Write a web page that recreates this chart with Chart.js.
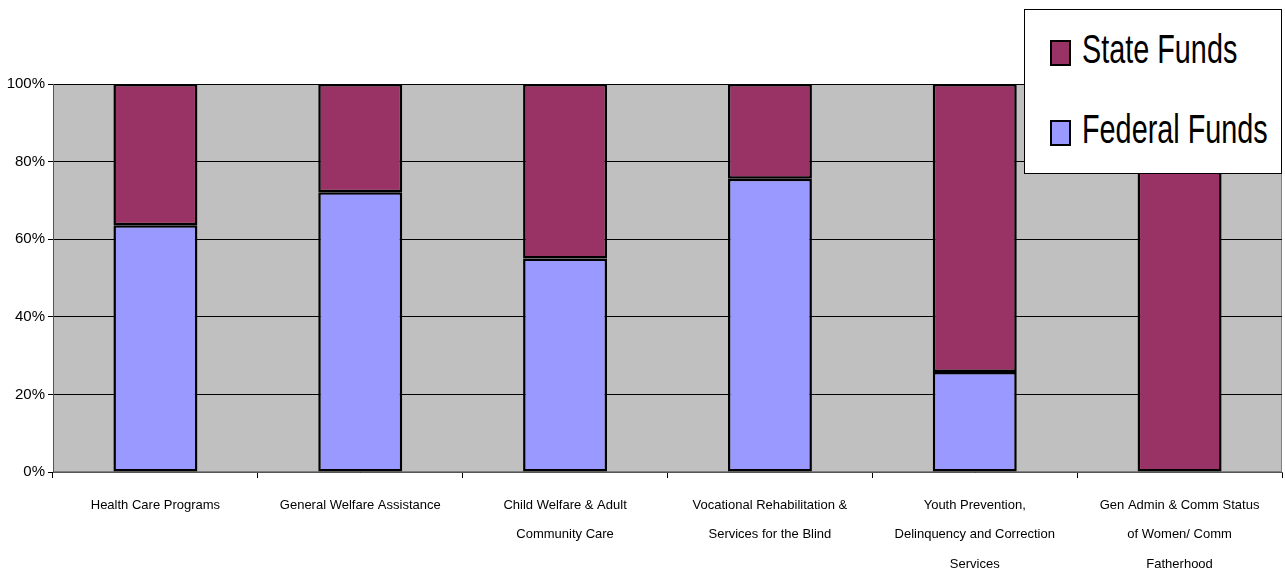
<!DOCTYPE html>
<html>
<head>
<meta charset="utf-8">
<script src="https://cdn.jsdelivr.net/npm/chart.js@4"></script>
<style>
  html, body { margin: 0; padding: 0; background: #fff; }
  .wrap { position: relative; width: 1285px; height: 576px; }
  .legend {
    position: absolute; left: 1024px; top: 9px; width: 256px; height: 163px;
    background: #fff; border: 1px solid #000;
    font-family: 'Liberation Sans', Arial, sans-serif; color: #000;
  }
  .legend .box { position: absolute; left: 25px; width: 17px; height: 22px; border: 2px solid #000; }
  .legend .txt {
    position: absolute; left: 57px; font-size: 40px; line-height: 40px; white-space: nowrap;
    transform: scaleX(0.72); transform-origin: left center;
  }
</style>
</head>
<body>
<div class="wrap">
  <canvas id="chart" width="1285" height="576"></canvas>
  <div class="legend">
    <span class="box" style="top: 30px; background:#993366"></span><span class="txt" style="top: 19px;">State Funds</span>
    <span class="box" style="top: 110px; background:#9999FF"></span><span class="txt" style="top: 99px;">Federal Funds</span>
  </div>
</div>
<script>
const categories = [
    ['Health Care Programs'],
    ['General Welfare Assistance'],
    ['Child Welfare & Adult', 'Community Care'],
    ['Vocational Rehabilitation &', 'Services for the Blind'],
    ['Youth Prevention,', 'Delinquency and Correction', 'Services'],
    ['Gen Admin & Comm Status', 'of Women/ Comm', 'Fatherhood']
];
const federalFunds = [63.6, 72.1, 55.0, 75.6, 25.8, 0];
const stateFunds = [36.4, 27.9, 45.0, 24.4, 74.2, 100];
const yTicks = [0, 20, 40, 60, 80, 100];

const plotBg = {
    id: 'plotBg',
    beforeDraw(chart) {
        const { ctx, chartArea: a } = chart;
        ctx.save();
        ctx.fillStyle = '#C0C0C0';
        ctx.fillRect(a.left, a.top, a.right - a.left, a.bottom - a.top);
        ctx.strokeStyle = '#808080';
        ctx.lineWidth = 1;
        ctx.strokeRect(a.left + 0.5, a.top + 0.5, a.right - a.left - 1, a.bottom - a.top - 1);
        ctx.restore();
    }
};

const font = "'Liberation Sans', Arial, sans-serif";

new Chart(document.getElementById('chart'), {
    type: 'bar',
    data: {
        labels: categories,
        datasets: [{
            label: 'Federal Funds',
            data: federalFunds,
            backgroundColor: '#9999FF',
            borderColor: '#000',
            borderWidth: 2.5,
            borderSkipped: false,
            barPercentage: 0.82,
            categoryPercentage: 0.5
        }, {
            label: 'State Funds',
            data: stateFunds,
            backgroundColor: '#993366',
            borderColor: '#000',
            borderWidth: 2.5,
            borderSkipped: false,
            barPercentage: 0.82,
            categoryPercentage: 0.5
        }]
    },
    options: {
        responsive: false,
        animation: false,
        layout: { padding: { top: 84, right: 3, left: 0, bottom: 0 } },
        plugins: { legend: { display: false }, tooltip: { enabled: false } },
        scales: {
            x: {
                stacked: true,
                offset: true,
                afterFit: s => { s.height = 104; },
                grid: { offset: true, drawOnChartArea: false, color: '#000', tickLength: 6 },
                border: { color: '#555' },
                ticks: { color: '#000', maxRotation: 0, autoSkip: false, padding: 12, font: { family: font, size: 13, lineHeight: 2.3 } }
            },
            y: {
                stacked: true,
                min: 0,
                max: 100,
                afterFit: s => { s.width = 53; },
                afterBuildTicks: s => { s.ticks = yTicks.map(v => ({ value: v })); },
                grid: { color: '#000', tickLength: 5 },
                border: { color: '#555' },
                ticks: { color: '#000', padding: 3, font: { family: font, size: 15 }, callback: v => v + '%' }
            }
        }
    },
    plugins: [plotBg]
});
</script>
</body>
</html>
